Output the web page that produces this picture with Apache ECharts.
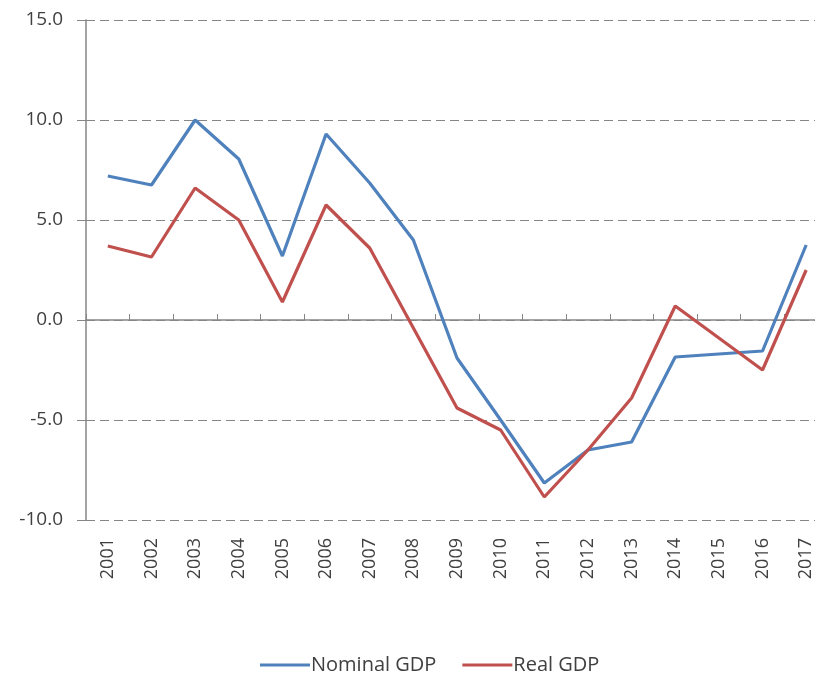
<!DOCTYPE html>
<html>
<head>
<meta charset="utf-8">
<script src="https://cdn.jsdelivr.net/npm/echarts@6/dist/echarts.min.js"></script>
<style>
  html, body { margin: 0; padding: 0; background: #fff; overflow: hidden; }
  /* 原图右侧被裁掉一截，容器比窗口宽 */
  #chart { width: 828px; height: 676px; }
</style>
</head>
<body>
<div id="chart"></div>
<script>
// 年份与两条序列
const years = ['2001', '2002', '2003', '2004', '2005', '2006', '2007', '2008', '2009',
  '2010', '2011', '2012', '2013', '2014', '2015', '2016', '2017']
const nominalGdp = [7.2, 6.75, 10.0, 8.05, 3.2, 9.3, 6.85, 4.0, -1.9,
  -5.0, -8.15, -6.5, -6.1, -1.85, -1.7, -1.55, 3.75]
const realGdp = [3.7, 3.15, 6.6, 5.0, 0.9, 5.75, 3.6, -0.4, -4.4,
  -5.5, -8.85, -6.5, -3.9, 0.7, -0.9, -2.5, 2.5]

const textColor = '#404040'
const chart = echarts.init(document.getElementById('chart'))

chart.setOption({
  animation: false,
  backgroundColor: '#fff',
  grid: { left: 86, right: 0, top: 20, height: 500 },
  legend: {
    top: 650,
    left: 255,
    icon: 'rect',
    itemWidth: 50,
    itemHeight: 3,
    itemGap: 26,
    textStyle: { color: textColor, fontSize: 20, fontFamily: 'Open Sans', padding: [0, 0, 0, -4] },
    data: ['Nominal GDP', 'Real GDP']
  },
  xAxis: [
    {
      // 底部标签
      type: 'category',
      data: years,
      position: 'bottom',
      axisLine: { show: false, onZero: false },
      axisTick: { show: false },
      axisLabel: {
        rotate: 90,
        margin: 18,
        color: textColor,
        fontSize: 18,
        fontFamily: 'Open Sans'
      }
    },
    {
      // 零线和刻度
      type: 'category',
      data: years,
      axisLine: { show: true, onZero: true, lineStyle: { color: '#868686', width: 1.5 } },
      axisTick: { show: true, length: 6, inside: false, lineStyle: { color: '#868686' } },
      axisLabel: { show: false }
    }
  ],
  yAxis: {
    type: 'value',
    min: -10,
    max: 15,
    interval: 5,
    axisLine: { show: true, lineStyle: { color: '#868686', width: 1.5 } },
    axisTick: { show: true, length: 9, lineStyle: { color: '#868686' } },
    axisLabel: {
      margin: 23,
      color: textColor,
      fontSize: 19,
      fontFamily: 'Open Sans',
      formatter: v => v.toFixed(1)
    },
    splitLine: { show: true, lineStyle: { color: '#868686', type: [9, 5], width: 1 } }
  },
  series: [
    {
      name: 'Nominal GDP',
      type: 'line',
      data: nominalGdp,
      symbol: 'none',
      color: '#4F81BD',
      lineStyle: { width: 3.2, color: '#4F81BD' }
    },
    {
      name: 'Real GDP',
      type: 'line',
      data: realGdp,
      symbol: 'none',
      color: '#C0504D',
      lineStyle: { width: 3.2, color: '#C0504D' }
    }
  ]
})
</script>
</body>
</html>
